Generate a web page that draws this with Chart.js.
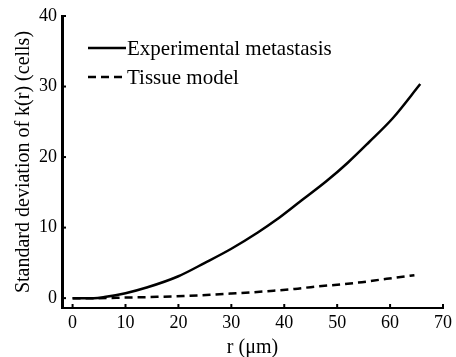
<!DOCTYPE html>
<html>
<head>
<meta charset="utf-8">
<script src="https://cdn.jsdelivr.net/npm/chart.js@4.4.1/dist/chart.umd.min.js"></script>
<style>
  html, body { margin: 0; padding: 0; background: #fff; }
  #wrap { width: 456px; height: 357px; }
</style>
</head>
<body>
<div id="wrap"><canvas id="chart"></canvas></div>
<script>
// values
const expR  = [0, 4, 6, 10, 14, 20, 25, 30, 35, 38.5, 43, 48, 52, 56, 60.5, 65.7];
const expSd = [0, 0, 0.15, 0.7, 1.5, 3.1, 5.0, 7.0, 9.3, 11.1, 13.7, 16.6, 19.2, 22.1, 25.5, 30.35];
const tisR  = [0, 5, 10, 16, 21, 26, 30, 34, 38, 42, 46, 50, 54, 58, 62, 64.6];
const tisSd = [0, 0, 0.08, 0.18, 0.3, 0.48, 0.65, 0.83, 1.05, 1.3, 1.65, 1.9, 2.2, 2.6, 3.0, 3.25];
const xTicks = [0, 10, 20, 30, 40, 50, 60, 70];
const yTicks = [0, 10, 20, 30, 40];
const seriesNames = ["Experimental metastasis", "Tissue model"];

const serif = '"Liberation Serif", "Times New Roman", serif';

function toPoints(xs, ys) {
    return xs.map((x, i) => ({ x: x, y: ys[i] }));
}

// small tick marks pointing into the plot
const innerTicks = {
    id: "innerTicks",
    afterDatasetsDraw(chart) {
        const ctx = chart.ctx;
        const area = chart.chartArea;
        const xs = chart.scales.x;
        const ys = chart.scales.y;
        ctx.save();
        ctx.strokeStyle = "#000";
        ctx.lineWidth = 2;
        xTicks.forEach(v => {
            const px = xs.getPixelForValue(v);
            ctx.beginPath();
            ctx.moveTo(px, area.bottom);
            ctx.lineTo(px, area.bottom - 4);
            ctx.stroke();
        });
        yTicks.forEach(v => {
            const py = ys.getPixelForValue(v);
            ctx.beginPath();
            ctx.moveTo(area.left, py);
            ctx.lineTo(area.left + 4, py);
            ctx.stroke();
        });
        ctx.restore();
    }
};

// legend drawn as line samples inside the plot
const lineLegend = {
    id: "lineLegend",
    afterDraw(chart) {
        const ctx = chart.ctx;
        ctx.save();
        ctx.font = "21px " + serif;
        ctx.textBaseline = "middle";
        ctx.fillStyle = "#000";
        chart.data.datasets.forEach((ds, i) => {
            const y = 48 + i * 29;
            ctx.strokeStyle = "#000";
            ctx.lineWidth = ds.borderWidth;
            ctx.setLineDash(ds.borderDash || []);
            ctx.beginPath();
            ctx.moveTo(88, y);
            ctx.lineTo(126, y);
            ctx.stroke();
            ctx.setLineDash([]);
            ctx.fillText(ds.label, 127, y + 1);
        });
        ctx.restore();
    }
};

const config = {
    type: "line",
    data: {
        datasets: [
            {
                label: seriesNames[0],
                data: toPoints(expR, expSd),
                borderColor: "#000",
                borderWidth: 2.5,
                pointRadius: 0,
                cubicInterpolationMode: "monotone",
                fill: false
            },
            {
                label: seriesNames[1],
                data: toPoints(tisR, tisSd),
                borderColor: "#000",
                borderWidth: 2.5,
                borderDash: [8, 5],
                pointRadius: 0,
                cubicInterpolationMode: "monotone",
                fill: false
            }
        ]
    },
    options: {
        responsive: true,
        maintainAspectRatio: false,
        animation: false,
        layout: { padding: { top: 16, right: 11, left: 0, bottom: 0 } },
        plugins: {
            legend: { display: false },
            tooltip: { enabled: false }
        },
        scales: {
            x: {
                type: "linear",
                min: -2,
                max: 70,
                afterBuildTicks: s => { s.ticks = xTicks.map(v => ({ value: v })); },
                afterFit: s => { s.height = 49; },
                grid: { display: false, drawTicks: false },
                border: { display: true, color: "#000", width: 2 },
                ticks: {
                    font: { family: serif, size: 18 },
                    color: "#000",
                    padding: 4,
                    maxRotation: 0,
                    autoSkip: false
                },
                title: {
                    display: true,
                    text: "r (μm)",
                    font: { family: serif, size: 20 },
                    color: "#000",
                    padding: { top: 0, bottom: -3 }
                }
            },
            y: {
                type: "linear",
                min: -1.4,
                max: 40,
                afterBuildTicks: s => { s.ticks = yTicks.map(v => ({ value: v })); },
                afterFit: s => { s.width = 62; },
                grid: { display: false, drawTicks: false },
                border: { display: true, color: "#000", width: 3 },
                ticks: {
                    font: { family: serif, size: 18 },
                    color: "#000",
                    padding: 5,
                    autoSkip: false
                },
                title: {
                    display: true,
                    text: "Standard deviation of k(r) (cells)",
                    font: { family: serif, size: 20 },
                    color: "#000",
                    padding: { top: 12, bottom: 0 }
                }
            }
        }
    },
    plugins: [innerTicks, lineLegend]
};

new Chart(document.getElementById("chart"), config);
</script>
</body>
</html>
